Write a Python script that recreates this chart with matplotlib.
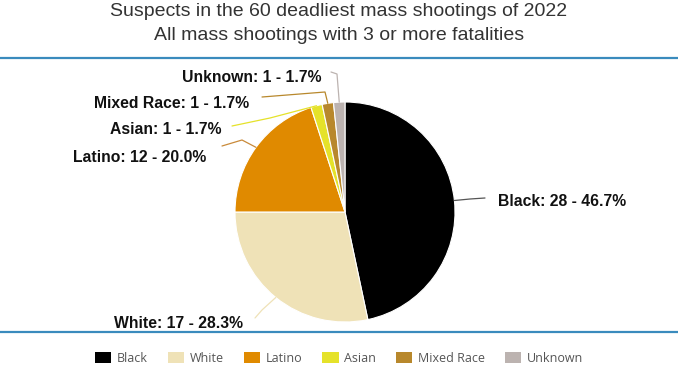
import matplotlib
matplotlib.use("Agg")
import matplotlib.pyplot as plt
import numpy as np
from matplotlib.patches import Patch

plt.rcParams["font.family"] = ["Liberation Sans", "DejaVu Sans"]

# data
groups = ["Black", "White", "Latino", "Asian", "Mixed Race", "Unknown"]
counts = [28, 17, 12, 1, 1, 1]
colors = ["#000000", "#efe2b7", "#e08a00", "#e5e22a", "#b8882c", "#bcb3b0"]
conn_colors = ["#555555", "#efe2b7", "#c98a3a", "#e5e22a", "#b8882c", "#bcb3b0"]

W, H = 678, 381
fig = plt.figure(figsize=(W / 100, H / 100), dpi=100)
ax = fig.add_axes([0, 0, 1, 1])

cx, cy, r = 345, H - 212, 110
wedges, _ = ax.pie(counts, colors=colors, startangle=90, counterclock=False,
                   center=(cx, cy), radius=r, frame=True,
                   wedgeprops=dict(edgecolor="white", linewidth=0.8))
ax.set_xlim(0, W)
ax.set_ylim(0, H)
ax.set_aspect("equal")
ax.axis("off")

# label layout (pixel coords from top): elbow, line end, text anchor, ha
layout = {
    "Black": ((470, 199), (485, 198), (498, 201), "left"),
    "White": ((262, 310), (255, 318), (178, 323), "center"),
    "Latino": ((242, 140), (222, 146), (206, 157), "right"),
    "Asian": ((270, 118), (232, 126), (221, 130), "right"),
    "Mixed Race": ((325, 92), (262, 97), (249, 103), "right"),
    "Unknown": ((337, 74), (331, 72), (321, 77), "right"),
}

total = sum(counts)
for w, g, n, cc in zip(wedges, groups, counts, conn_colors):
    mid = np.deg2rad((w.theta1 + w.theta2) / 2)
    px, py = cx + r * np.cos(mid), cy + r * np.sin(mid)
    (ex, ey), (fx, fy), (tx, ty), ha = layout[g]
    ax.plot([px, ex, fx], [py, H - ey, H - fy], color=cc, lw=0.9,
            solid_capstyle="round")
    ax.text(tx, H - ty, f"{g}: {n} - {n / total * 100:.1f}%", ha=ha,
            va="center", fontsize=11.3, fontweight="bold", color="#111111")

# blue rules
for yy in (58, 332):
    ax.plot([0, W], [H - yy, H - yy], color="#3a8bbd", lw=1.6)

fig.text(0.5, 1 - 11 / H, "Suspects in the 60 deadliest mass shootings of 2022",
         ha="center", va="center", fontsize=14, color="#333333")
fig.text(0.5, 1 - 35 / H, "All mass shootings with 3 or more fatalities",
         ha="center", va="center", fontsize=14, color="#333333")

handles = [Patch(facecolor=c, edgecolor="none") for c in colors]
fig.legend(handles, groups, loc="center", bbox_to_anchor=(0.5, 1 - 358 / H),
           ncol=6, frameon=False, handlelength=1.3,
           handleheight=1.0, columnspacing=1.6, handletextpad=0.45,
           labelcolor="#555555", prop={"family": "Open Sans", "size": 9})

fig.savefig("out.png", dpi=100)
